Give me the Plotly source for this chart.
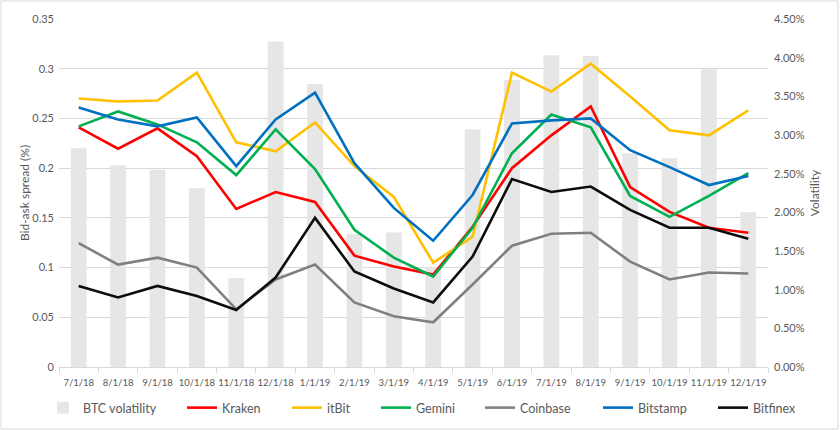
import plotly.graph_objects as go

months = ["7/1/18", "8/1/18", "9/1/18", "10/1/18", "11/1/18", "12/1/18", "1/1/19", "2/1/19",
          "3/1/19", "4/1/19", "5/1/19", "6/1/19", "7/1/19", "8/1/19", "9/1/19", "10/1/19",
          "11/1/19", "12/1/19"]

btc_volatility = [0.0283, 0.0261, 0.0255, 0.0231, 0.0115, 0.0421, 0.0366, 0.0172, 0.0174,
                  0.0130, 0.0307, 0.0371, 0.0403, 0.0402, 0.0276, 0.0270, 0.0385, 0.0200]

kraken = [0.241, 0.2195, 0.240, 0.212, 0.159, 0.176, 0.166, 0.112, 0.101, 0.093,
          0.141, 0.200, 0.233, 0.262, 0.181, 0.156, 0.140, 0.135]
itbit = [0.270, 0.267, 0.268, 0.296, 0.226, 0.217, 0.246, 0.202, 0.171, 0.105,
         0.131, 0.296, 0.277, 0.305, 0.272, 0.238, 0.233, 0.258]
gemini = [0.242, 0.257, 0.244, 0.226, 0.193, 0.239, 0.199, 0.138, 0.110, 0.091,
          0.140, 0.215, 0.254, 0.241, 0.172, 0.151, 0.172, 0.195]
coinbase = [0.1245, 0.103, 0.110, 0.100, 0.058, 0.088, 0.103, 0.065, 0.051, 0.045,
            0.083, 0.122, 0.134, 0.135, 0.106, 0.088, 0.095, 0.094]
bitstamp = [0.261, 0.249, 0.242, 0.251, 0.202, 0.249, 0.276, 0.205, 0.160, 0.127,
            0.173, 0.245, 0.248, 0.250, 0.218, 0.201, 0.183, 0.192]
bitfinex = [0.0815, 0.070, 0.0815, 0.0715, 0.0574, 0.090, 0.150, 0.096, 0.079, 0.065,
            0.111, 0.189, 0.176, 0.1815, 0.158, 0.140, 0.140, 0.129]

series = [
    ("Kraken", kraken, "#ff0000"),
    ("itBit", itbit, "#ffc000"),
    ("Gemini", gemini, "#00b050"),
    ("Coinbase", coinbase, "#808080"),
    ("Bitstamp", bitstamp, "#0070c0"),
    ("Bitfinex", bitfinex, "#0d0d0d"),
]

# left edge (px) of each legend entry, matching the reference's spacing
legend_x = [43, 182, 287, 376, 480, 598, 713]

FONT = "Lato, 'Open Sans', sans-serif"
TXT = "#595959"

fig = go.Figure()
fig.add_trace(go.Bar(x=months, y=btc_volatility, name="BTC volatility", legend="legend",
                     marker=dict(color="#e6e6e6", line=dict(width=0)), yaxis="y"))
for i, (name, vals, col) in enumerate(series):
    fig.add_trace(go.Scatter(x=months, y=vals, name=name, mode="lines",
                             legend=f"legend{i + 2}",
                             line=dict(color=col, width=2.6), yaxis="y2"))

legends = {}
for i, lx in enumerate(legend_x):
    key = "legend" if i == 0 else f"legend{i + 1}"
    legends[key] = dict(orientation="h", x=lx / 840, y=37 / 430, xref="container",
                        yref="container", xanchor="left", yanchor="top",
                        font=dict(size=12.5, color=TXT), itemwidth=30,
                        bgcolor="rgba(0,0,0,0)")

fig.update_layout(
    width=840, height=430,
    margin=dict(l=59, r=72, t=19, b=63, autoexpand=False),
    paper_bgcolor="white", plot_bgcolor="white",
    font=dict(family=FONT, color=TXT, size=11),
    bargap=0.6,
    showlegend=True,
    xaxis=dict(type="category", tickfont=dict(size=9.5, color=TXT), tickangle=0,
               automargin=False, ticklabelstandoff=7,
               showline=True, linecolor="#d9d9d9", linewidth=1,
               ticks="outside", tickson="boundaries", ticklen=5, tickcolor="#d9d9d9",
               showgrid=False),
    yaxis=dict(side="right", range=[0, 0.045], dtick=0.005, tickformat=".2%",
               showgrid=False, zeroline=False, showline=False, automargin=False,
               ticklabelstandoff=5,
               tickfont=dict(size=11, color=TXT),
               title=dict(text="Volatility", font=dict(size=12, color=TXT), standoff=6)),
    yaxis2=dict(side="left", overlaying="y", range=[0, 0.35], dtick=0.05,
                showgrid=True, gridcolor="#d9d9d9", gridwidth=1, zeroline=False,
                showline=False, tickfont=dict(size=11, color=TXT), automargin=False,
                ticklabelstandoff=4,
                title=dict(text="Bid-ask spread (%)", font=dict(size=12, color=TXT), standoff=0)),
    shapes=[dict(type="rect", xref="paper", yref="paper",
                 x0=-0.0818, x1=1.0987, y0=-0.178, y1=1.0517,
                 line=dict(color="#d9d9d9", width=1), layer="below")],
    **legends,
)

fig.write_html("out.html", config={"displayModeBar": False},
               post_script="document.body.style.margin='0px';")
